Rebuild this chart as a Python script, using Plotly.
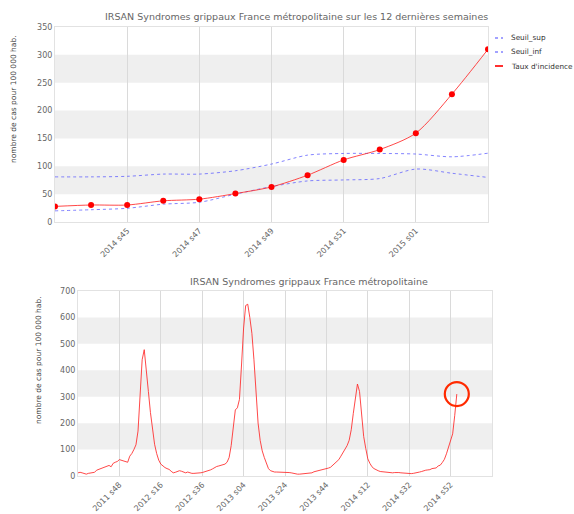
import plotly.graph_objects as go

# ---------------- data ----------------
# last 12 weeks (top chart)
semaines_12 = ["2014 s43", "2014 s44", "2014 s45", "2014 s46", "2014 s47", "2014 s48",
               "2014 s49", "2014 s50", "2014 s51", "2014 s52", "2015 s01", "2015 s02", "2015 s03"]
taux_12 = [28, 30.5, 30.5, 38, 41, 51, 63, 84, 111.5, 130, 159.5, 229.5, 310]
seuil_sup = [81, 81, 82, 86, 86, 92, 104, 120, 123, 123, 122, 117, 123.5]
seuil_inf = [20, 22, 24.6, 32, 35.4, 50, 63.5, 73.7, 75.5, 78, 95, 87.5, 80]
ticks_12 = ["2014 s45", "2014 s47", "2014 s49", "2014 s51", "2015 s01"]
legende = ["Seuil_sup", "Seuil_inf", "Taux d'incidence"]

# history from 2011 s28 to 2014 s42 (bottom chart), then the last 12 weeks
taux_historique = [
    12, 14, 12, 8, 7, 10, 12, 12, 14, 22,
    25, 28, 30, 32, 36, 40, 35, 48, 52, 55,
    62, 60, 58, 55, 52, 75, 85, 100, 118, 170,
    330, 440, 478, 410, 320, 240, 170, 120, 85, 60,
    45, 38, 32, 28, 25, 18, 12, 14, 16, 20,
    18, 14, 12, 15, 12, 10, 10, 10, 11, 12,
    13, 15, 18, 20, 23, 27, 32, 36, 38, 40,
    42, 45, 52, 70, 115, 195, 250, 258, 290, 420,
    560, 645, 650, 600, 540, 440, 300, 200, 135, 95,
    70, 45, 28, 20, 16, 15, 15, 15, 15, 14,
    15, 14, 13, 12, 10, 8, 7, 7, 8, 8,
    8, 9, 10, 12, 16, 18, 19, 20, 22, 25,
    28, 30, 33, 40, 46, 55, 62, 75, 88, 98,
    115, 135, 175, 237, 300, 348, 320, 230, 150, 105,
    65, 48, 35, 28, 23, 20, 17, 16, 15, 14,
    13, 13, 12, 13, 14, 13, 12, 11, 10, 9,
    8, 9, 10, 11, 13, 15, 17, 20, 22, 23,
    24,
]
debut_annee, debut_semaine = 2011, 28
semaines_par_annee = {2011: 52, 2012: 52, 2013: 52, 2014: 52, 2015: 53}
ticks_all = ["2011 s48", "2012 s16", "2012 s36", "2013 s04", "2013 s24",
             "2013 s44", "2014 s12", "2014 s32", "2014 s52"]

taux_all = taux_historique + taux_12
semaines_all = []
a, s = debut_annee, debut_semaine
for _ in taux_all:
    semaines_all.append(f"{a} s{s:02d}")
    s += 1
    if s > semaines_par_annee[a]:
        a, s = a + 1, 1

# ---------------- styling ----------------
W, H = 574, 514
FONT = "DejaVu Sans"
GREY = "#666666"
BAND = "#efefef"
GRID = "#dadada"
RED_LINE = "rgba(255,40,40,0.85)"
BLUE = "rgba(90,90,255,0.75)"


def px_x(p):
    return p / W


def px_y(p):
    return 1 - p / H


fig = go.Figure()

fig.add_trace(go.Scatter(x=semaines_12, y=seuil_sup, name=legende[0], mode="lines",
                         line=dict(color=BLUE, width=1, dash="dot", shape="spline", smoothing=0.8),
                         xaxis="x", yaxis="y"))
fig.add_trace(go.Scatter(x=semaines_12, y=seuil_inf, name=legende[1], mode="lines",
                         line=dict(color=BLUE, width=1, dash="dot", shape="spline", smoothing=0.8),
                         xaxis="x", yaxis="y"))
fig.add_trace(go.Scatter(x=semaines_12, y=taux_12, name=legende[2], mode="lines+markers",
                         line=dict(color=RED_LINE, width=1, shape="spline", smoothing=0.8),
                         marker=dict(color="#ff0000", size=6),
                         xaxis="x", yaxis="y"))
fig.add_trace(go.Scatter(x=semaines_all, y=taux_all, name=legende[2], mode="lines",
                         line=dict(color=RED_LINE, width=1),
                         xaxis="x2", yaxis="y2"))

axis_common = dict(showline=True, linecolor="#e2e2e2", linewidth=1, mirror=True,
                   tickfont=dict(family=FONT, size=8, color=GREY), ticks="", zeroline=False,
                   automargin=False)

fig.update_layout(
    width=W, height=H,
    margin=dict(l=0, r=0, t=0, b=0, autoexpand=False),
    paper_bgcolor="white", plot_bgcolor="white",
    font=dict(family=FONT, color=GREY),
    showlegend=False,
    xaxis=dict(domain=[px_x(55), px_x(488)], anchor="y", type="category",
               range=[0, len(semaines_12) - 1], tickvals=ticks_12, tickangle=-45,
               showgrid=True, gridcolor=GRID, gridwidth=1, **axis_common),
    yaxis=dict(domain=[px_y(222), px_y(27)], anchor="x", range=[0, 350], dtick=50,
               showgrid=False, **axis_common),
    xaxis2=dict(domain=[px_x(78), px_x(492)], anchor="y2", type="category",
                range=[0, 200], tickvals=ticks_all, tickangle=-45,
                showgrid=True, gridcolor=GRID, gridwidth=1, **axis_common),
    yaxis2=dict(domain=[px_y(476), px_y(291)], anchor="x2", range=[0, 700], dtick=100,
                showgrid=False, **axis_common),
)

# alternating background bands
shapes = []
for lo in (50, 150, 250):
    shapes.append(dict(type="rect", xref="x domain", yref="y", x0=0, x1=1, y0=lo, y1=lo + 50,
                       fillcolor=BAND, line_width=0, layer="below"))
for lo in (100, 300, 500):
    shapes.append(dict(type="rect", xref="x2 domain", yref="y2", x0=0, x1=1, y0=lo, y1=lo + 100,
                       fillcolor=BAND, line_width=0, layer="below"))
# red circle highlighting the latest value
shapes.append(dict(type="circle", xref="x2", yref="y2",
                   xsizemode="pixel", ysizemode="pixel",
                   xanchor=semaines_all[-1], yanchor=taux_all[-1],
                   x0=-12, x1=12, y0=-12, y1=12,
                   line=dict(color="#ff2a00", width=2.2), layer="above"))

# legend (small samples like the original)
leg_y = [38, 52, 66]
leg_styles = [dict(color=BLUE, width=1.3, dash="dot"),
              dict(color=BLUE, width=1.3, dash="dot"),
              dict(color="#ff3030", width=2)]
for yy, st in zip(leg_y, leg_styles):
    shapes.append(dict(type="line", xref="paper", yref="paper",
                       x0=px_x(495), x1=px_x(503), y0=px_y(yy), y1=px_y(yy), line=st))
fig.update_layout(shapes=shapes)

annotations = [
    dict(text="IRSAN Syndromes grippaux France métropolitaine sur les 12 dernières semaines",
         x=px_x(296), y=px_y(16.5), xref="paper", yref="paper", showarrow=False,
         font=dict(family=FONT, size=9.5, color=GREY), xanchor="center", yanchor="middle"),
    dict(text="IRSAN Syndromes grippaux France métropolitaine",
         x=px_x(309), y=px_y(281), xref="paper", yref="paper", showarrow=False,
         font=dict(family=FONT, size=9.5, color=GREY), xanchor="center", yanchor="middle"),
    dict(text="nombre de cas pour 100 000 hab.", textangle=-90,
         x=px_x(14), y=px_y(99), xref="paper", yref="paper", showarrow=False,
         font=dict(family=FONT, size=7.5, color="#444444"), xanchor="center", yanchor="middle"),
    dict(text="nombre de cas pour 100 000 hab.", textangle=-90,
         x=px_x(38), y=px_y(360), xref="paper", yref="paper", showarrow=False,
         font=dict(family=FONT, size=7.5, color="#444444"), xanchor="center", yanchor="middle"),
]
for yy, txt in zip(leg_y, legende):
    annotations.append(dict(text=txt, x=px_x(509), y=px_y(yy), xref="paper", yref="paper",
                            showarrow=False, xanchor="left", yanchor="middle",
                            font=dict(family=FONT, size=7.3, color="#333333")))
fig.update_layout(annotations=annotations)

fig.write_html("out.html", config={"displayModeBar": False},
               post_script="document.body.style.margin='0';document.body.style.overflow='hidden';")
